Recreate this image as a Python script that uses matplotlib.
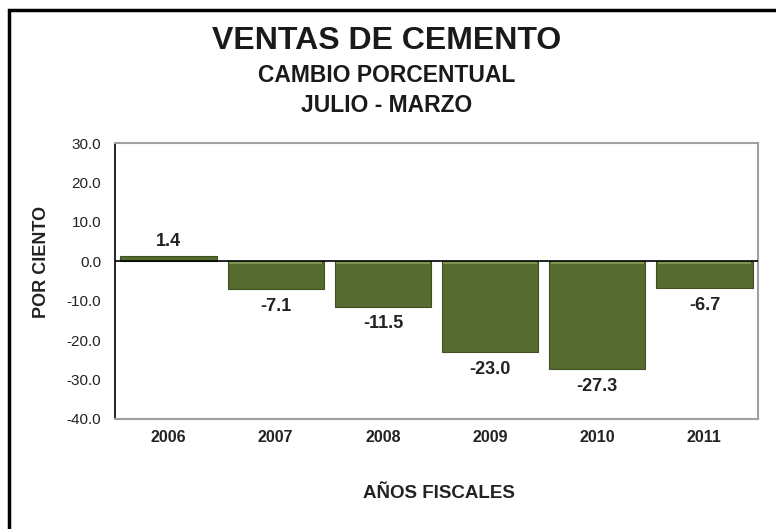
import matplotlib.pyplot as plt
from matplotlib.patches import Rectangle

years = ["2006", "2007", "2008", "2009", "2010", "2011"]
change = [1.4, -7.1, -11.5, -23.0, -27.3, -6.7]
yticks = [-40, -30, -20, -10, 0, 10, 20, 30]

BAR = "#566b2f"

def main():
    plt.rcParams['font.family'] = ['Liberation Sans', 'DejaVu Sans']

    fig = plt.figure(figsize=(7.76, 5.29), dpi=100)
    ax = fig.add_axes([115 / 776, 1 - 419 / 529, (758 - 115) / 776, (419 - 143) / 529])

    x = list(range(len(years)))
    ax.bar(x, change, width=0.9, color=BAR, edgecolor="#3f5022", linewidth=0.8, zorder=2)
    # light bevel on the zero side of each bar
    for xi, v in zip(x, change):
        if v < 0:
            ax.bar(xi, -0.7, width=0.87, color="#7d9550", linewidth=0, zorder=3)

    for xi, v in zip(x, change):
        if v >= 0:
            ax.annotate(f"{v:.1f}", (xi, v), xytext=(0, 10), textcoords="offset points",
                        ha="center", va="center", fontsize=13, fontweight="bold",
                        color="#222222")
        else:
            ax.annotate(f"{v:.1f}", (xi, v), xytext=(0, -12.5), textcoords="offset points",
                        ha="center", va="center", fontsize=13, fontweight="bold",
                        color="#222222")

    ax.axhline(0, color="black", linewidth=1.2, zorder=4)
    ax.set_ylim(-40, 30)
    ax.set_xlim(-0.5, len(years) - 0.5)
    ax.set_yticks(yticks)
    ax.set_yticklabels([f"{t:.1f}" for t in yticks], fontsize=11, color="#222222")
    ax.set_xticks(x)
    ax.set_xticklabels(years, fontsize=11.5, fontweight="bold", color="#222222")
    ax.tick_params(length=0)
    ax.tick_params(axis="y", pad=10)
    ax.tick_params(axis="x", pad=8)

    for s in ["top", "right", "bottom"]:
        ax.spines[s].set_color("#a0a0a0")
        ax.spines[s].set_linewidth(1.5)
    ax.spines["left"].set_color("black")
    ax.spines["left"].set_linewidth(1.2)

    fig.text(42 / 776, 1 - 262 / 529, "POR CIENTO", ha="center", va="center",
             rotation=90, fontsize=13, fontweight="bold", color="#222222")
    fig.text(439 / 776, 1 - 493 / 529, "AÑOS FISCALES", ha="center", va="center",
             fontsize=13.5, fontweight="bold", color="#222222")

    cx = 387 / 776
    fig.text(cx, 1 - 41 / 529, "VENTAS DE CEMENTO", ha="center", va="center",
             fontsize=23, fontweight="bold", color="#1a1a1a")
    fig.text(cx, 1 - 75 / 529, "CAMBIO PORCENTUAL", ha="center", va="center",
             fontsize=16.5, fontweight="bold", color="#1a1a1a")
    fig.text(cx, 1 - 105 / 529, "JULIO - MARZO", ha="center", va="center",
             fontsize=16.5, fontweight="bold", color="#1a1a1a")

    # outer frame, running off the right and bottom edges
    fig.patches.append(Rectangle((9 / 776, -0.05), 1.2, 1 - 10 / 529 + 0.05,
                                 transform=fig.transFigure, fill=False,
                                 edgecolor="black", linewidth=2.5))

    fig.savefig("out.png", dpi=100)

if __name__ == "__main__":
    main()
